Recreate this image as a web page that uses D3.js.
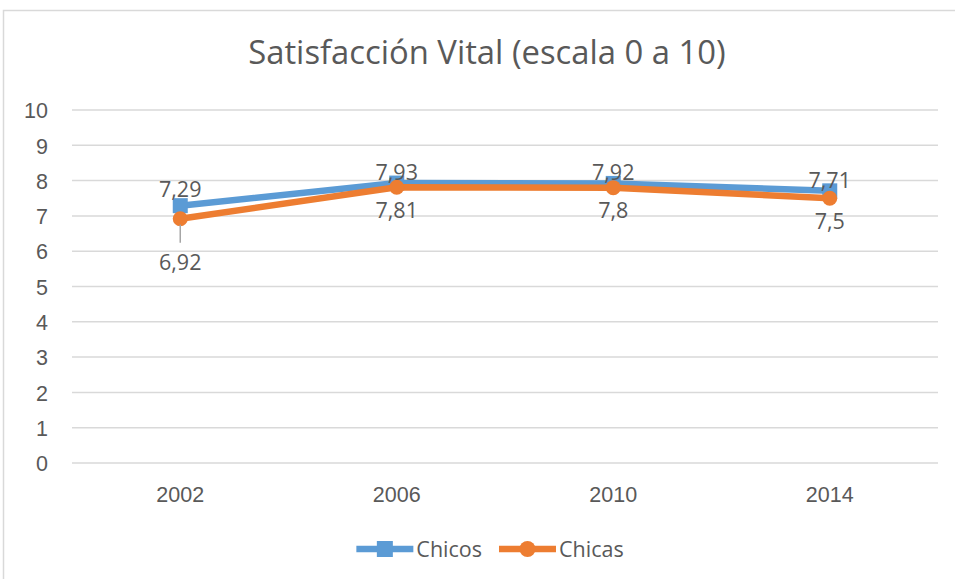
<!DOCTYPE html>
<html>
<head>
<meta charset="utf-8">
<script src="https://cdn.jsdelivr.net/npm/d3@7"></script>
<style>
  html, body { margin: 0; padding: 0; background: #fff; }
  svg { display: block; font-family: 'Open Sans', Lato, sans-serif; }
  .grid line { stroke: #d9d9d9; stroke-width: 1.5; }
  .axis text { fill: #595959; font-size: 21.5px; }
</style>
</head>
<body>
<svg id="chart"></svg>
<script>
const years = ['2002', '2006', '2010', '2014'];
const chicos = [7.29, 7.93, 7.92, 7.71];
const chicas = [6.92, 7.81, 7.8, 7.5];
const yTicks = [0, 1, 2, 3, 4, 5, 6, 7, 8, 9, 10];
const seriesNames = ['Chicos', 'Chicas'];

const width = 955;
const height = 579;
const margin = { top: 110, right: 17, bottom: 116, left: 72 };
const TEXT = '#595959';
const COLORS = { Chicos: '#5b9bd5', Chicas: '#ed7d31' };
// label nudges (px) where the labels got pushed around in the original
const LABEL_ABOVE = -11;
const LABEL_BELOW = 23;
const nudge = { 'Chicos-2002': -5, 'Chicas-2002': 21 };

const fmt = v => String(v).replace('.', ',');

const svg = d3.select('#chart').attr('width', width).attr('height', height);

// outer frame
svg.append('rect')
  .attr('x', 3.5).attr('y', 10.5)
  .attr('width', 1000).attr('height', 1000)
  .attr('fill', 'none').attr('stroke', '#d9d9d9').attr('stroke-width', 1.5);

const x = d3.scaleBand().domain(years).range([margin.left, width - margin.right]).padding(0);
const y = d3.scaleLinear().domain([0, 10]).range([height - margin.bottom, margin.top]);
const cx = d => x(d) + x.bandwidth() / 2;

svg.append('text')
  .attr('x', 487).attr('y', 64)
  .attr('text-anchor', 'middle')
  .attr('fill', TEXT)
  .style('font-size', '32.8px')
  .text('Satisfacción Vital (escala 0 a 10)');

// gridlines
svg.append('g').attr('class', 'grid')
  .selectAll('line').data(yTicks).join('line')
  .attr('x1', margin.left).attr('x2', width - margin.right)
  .attr('y1', d => y(d)).attr('y2', d => y(d));

const yAxis = d3.axisLeft(y).tickValues(yTicks).tickSize(0).tickPadding(0).tickFormat(d => d);
svg.append('g').attr('class', 'axis')
  .attr('transform', 'translate(48,0)')
  .call(yAxis)
  .call(g => g.select('.domain').remove())
  .selectAll('text').attr('dy', '0.36em');

const xAxis = d3.axisBottom(x).tickSize(0).tickPadding(0);
svg.append('g').attr('class', 'axis')
  .attr('transform', `translate(0,${y(0) + 39})`)
  .call(xAxis)
  .call(g => g.select('.domain').remove())
  .selectAll('text').attr('dy', '0');

const data = [
  { name: 'Chicos', values: chicos },
  { name: 'Chicas', values: chicas }
];

const line = d3.line().x((d, i) => cx(years[i])).y(d => y(d));

data.forEach(s => {
  const g = svg.append('g');
  g.append('path')
    .attr('d', line(s.values))
    .attr('fill', 'none')
    .attr('stroke', COLORS[s.name])
    .attr('stroke-width', 6.5)
    .attr('stroke-linejoin', 'round');
  if (s.name === 'Chicos') {
    g.selectAll('rect').data(s.values).join('rect')
      .attr('x', (d, i) => cx(years[i]) - 7.5)
      .attr('y', d => y(d) - 7.5)
      .attr('width', 15).attr('height', 15)
      .attr('fill', COLORS[s.name]);
  } else {
    g.selectAll('circle').data(s.values).join('circle')
      .attr('cx', (d, i) => cx(years[i]))
      .attr('cy', d => y(d))
      .attr('r', 7.5)
      .attr('fill', COLORS[s.name]);
  }
});

// data labels
data.forEach(s => {
  const base = s.name === 'Chicos' ? LABEL_ABOVE : LABEL_BELOW;
  s.values.forEach((v, i) => {
    const key = `${s.name}-${years[i]}`;
    const dy = base + (nudge[key] || 0);
    if (key === 'Chicas-2002') {
      svg.append('line')
        .attr('x1', cx(years[i])).attr('x2', cx(years[i]))
        .attr('y1', y(v) + 6).attr('y2', y(v) + 24)
        .attr('stroke', '#a6a6a6').attr('stroke-width', 1.5);
    }
    svg.append('text')
      .attr('x', cx(years[i]))
      .attr('y', y(v) + dy)
      .attr('dy', '0.36em')
      .attr('text-anchor', 'middle')
      .attr('fill', TEXT)
      .style('font-size', '21.5px')
      .text(fmt(v));
  });
});

// legend
const legend = svg.append('g').attr('transform', 'translate(0,549)');
const items = legend.selectAll('g').data(seriesNames).join('g');
items.append('line')
  .attr('x1', 0).attr('x2', 57)
  .attr('stroke', d => COLORS[d]).attr('stroke-width', 6.5);
items.each(function (d) {
  const g = d3.select(this);
  if (d === 'Chicos') {
    g.append('rect').attr('x', 20.5).attr('y', -8).attr('width', 16).attr('height', 16).attr('fill', COLORS[d]);
  } else {
    g.append('circle').attr('cx', 28.5).attr('cy', 0).attr('r', 8).attr('fill', COLORS[d]);
  }
});
items.append('text')
  .attr('x', 60).attr('dy', '0.36em')
  .attr('fill', TEXT).style('font-size', '21.5px')
  .text(d => d);

let offset = 0;
const widths = [];
items.each(function () {
  widths.push(60 + d3.select(this).select('text').node().getComputedTextLength());
});
const gap = 17;
const total = d3.sum(widths) + gap * (widths.length - 1);
let start = 490 - total / 2;
items.attr('transform', (d, i) => {
  const t = `translate(${start + offset},0)`;
  offset += widths[i] + gap;
  return t;
});
</script>
</body>
</html>
